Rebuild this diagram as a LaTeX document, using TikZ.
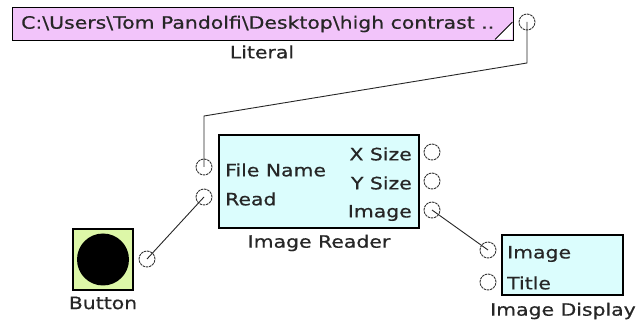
\documentclass[tikz,border=0pt]{standalone}
\usepackage{fontspec}
\usepackage{xcolor}
\newfontfamily\uifont[FakeStretch=1.2, FakeBold=0.6]{DejaVu Sans}
\definecolor{literal-pink}{HTML}{F2C4FA}
\definecolor{reader-cyan}{HTML}{DBFDFD}
\definecolor{button-green}{HTML}{DDF7A8}
\definecolor{label-gray}{HTML}{262626}
\definecolor{port-gray}{HTML}{333333}

\begin{document}
\begin{tikzpicture}[x=1pt, y=-1pt,
    every node/.style={font=\uifont\fontsize{17}{19}\selectfont, text=label-gray},
    block/.style={draw=black, line width=1.2pt, inner sep=0pt},
    port/.style={circle, draw=port-gray, line width=0.9pt, dash pattern=on 2.5pt off 0.8pt,
                 minimum size=16pt, inner sep=0pt},
    wire/.style={draw=black!85, line width=0.9pt},
    tag/.style={inner sep=0pt}]
    % Diagram: literal path feeds an image reader, reader feeds a display.
    % Coordinates: (x, y) in px, y pointing down, page 638 x 323
    %   literal box (12,7)-(513,40), out port at (527,22)
    %   reader box (219,135)-(419,228), ports at x=204 and x=432
    %   button box (73,229)-(133,290), out port at (147,259)
    %   display box (502,235)-(623,295), ports at x=488
    \useasboundingbox (0,0) rectangle (638,323);

    % literal
    \node[block, fill=literal-pink, minimum width=501pt, minimum height=33pt,
          anchor=north west] (literal) at (12,7) {};
    \node[tag, anchor=west] (literal-text) at (21,24)
          {C:\textbackslash Users\textbackslash Tom Pandolfi\textbackslash Desktop\textbackslash high contrast ..};
    \fill[white] (495,39.4) -- (512.4,39.4) -- (512.4,22) -- cycle;
    \draw[line width=0.9pt] (495,39.4) -- (512.4,22);
    \node[tag] (literal-name) at (262,52) {Literal};

    % image reader
    \node[block, fill=reader-cyan, minimum width=200pt, minimum height=93pt]
          (reader) at (319,181.5) {};
    \node[tag, anchor=west] (fname-text) at (225,170) {File Name};
    \node[tag, anchor=west] (read-text) at (225,199) {Read};
    \node[tag, anchor=east] (xsize-text) at (412,154) {X Size};
    \node[tag, anchor=east] (ysize-text) at (412,183) {Y Size};
    \node[tag, anchor=east] (image-text) at (412,213) {Image};
    \node[tag] (reader-name) at (319,243) {Image Reader};

    % button
    \node[block, fill=button-green, minimum width=60pt, minimum height=61pt]
          (button) at (103,259.5) {};
    \fill[black] (button.center) circle (26pt);
    \node[tag] (button-name) at (103,303) {Button};

    % image display
    \node[block, fill=reader-cyan, minimum width=121pt, minimum height=60pt]
          (display) at (562.5,265) {};
    \node[tag, anchor=west] (dimage-text) at (507,254) {Image};
    \node[tag, anchor=west] (title-text) at (507,283) {Title};
    \node[tag] (display-name) at (563,311) {Image Display};

    % wires
    \coordinate (bend-a) at (527,63);
    \coordinate (bend-b) at (204,116);
    \coordinate (lit-c) at (527,22);
    \coordinate (fname-c) at (204,167);
    \coordinate (read-c) at (204,197);
    \coordinate (btn-c) at (147,259);
    \coordinate (imgr-c) at (432,210);
    \coordinate (imgd-c) at (488,250);
    \draw[wire] (lit-c) -- (bend-a) -- (bend-b) -- (fname-c);
    \draw[wire] (btn-c) -- (read-c);
    \draw[wire] (imgr-c) -- (imgd-c);

    % ports
    \node[port] (lit-out) at (lit-c) {};
    \node[port] (fname-in) at (fname-c) {};
    \node[port] (read-in) at (read-c) {};
    \node[port] (xsize-out) at (432,152) {};
    \node[port] (ysize-out) at (432,181) {};
    \node[port] (imgr-out) at (imgr-c) {};
    \node[port] (btn-out) at (btn-c) {};
    \node[port] (imgd-in) at (imgd-c) {};
    \node[port] (title-in) at (488,282) {};
  \end{tikzpicture}
\end{document}
